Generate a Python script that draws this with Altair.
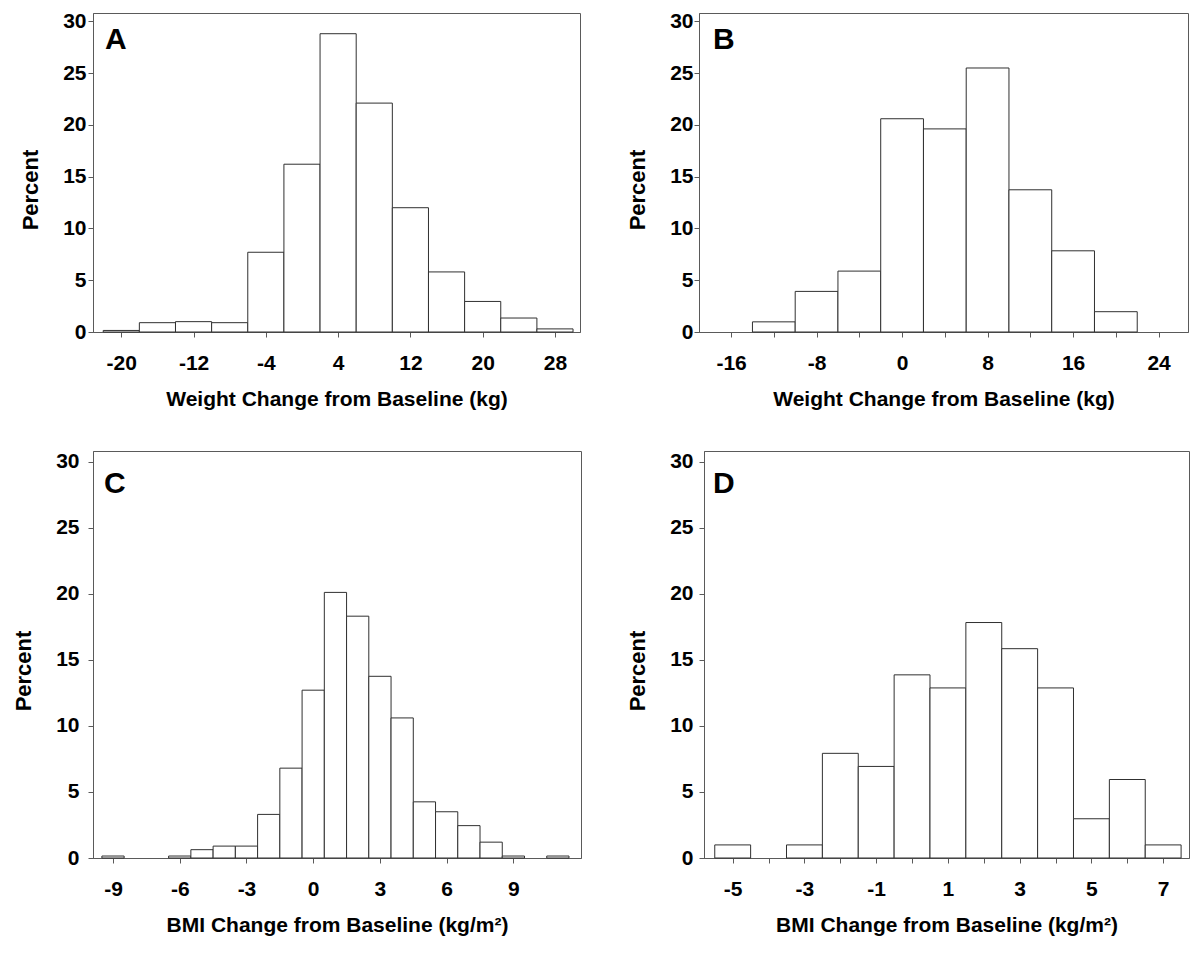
import altair as alt
import pandas as pd

# ---- data ----
panel_letters = ["A", "B", "C", "D"]
x_titles = ["Weight Change from Baseline (kg)", "Weight Change from Baseline (kg)",
            "BMI Change from Baseline (kg/m²)", "BMI Change from Baseline (kg/m²)"]

a_centers = [-20, -16, -12, -8, -4, 0, 4, 8, 12, 16, 20, 24, 28]
a_pct = [0.15, 0.9, 1.0, 0.9, 7.7, 16.2, 28.8, 22.1, 12.0, 5.8, 2.95, 1.35, 0.3]

b_centers = [-12, -8, -4, 0, 4, 8, 12, 16, 20]
b_pct = [0.98, 3.92, 5.88, 20.59, 19.61, 25.49, 13.73, 7.84, 1.96]

c_centers = [-9, -8, -7, -6, -5, -4, -3, -2, -1, 0, 1, 2, 3, 4, 5, 6, 7, 8, 9, 10, 11]
c_pct = [0.15, 0, 0, 0.15, 0.63, 0.9, 0.9, 3.3, 6.8, 12.7, 20.1, 18.3, 13.75, 10.6,
         4.25, 3.5, 2.45, 1.2, 0.15, 0, 0.15]

d_centers = [-5, -4, -3, -2, -1, 0, 1, 2, 3, 4, 5, 6, 7]
d_pct = [0.99, 0, 0.99, 7.92, 6.93, 13.86, 12.87, 17.82, 15.84, 12.87, 2.97, 5.94, 0.99]

a_ticks = [-20, -12, -4, 4, 12, 20, 28]
b_ticks = [-16, -12, -8, -4, 0, 4, 8, 12, 16, 20, 24]
c_ticks = [-9, -6, -3, 0, 3, 6, 9]
d_ticks = [-5, -4, -3, -2, -1, 0, 1, 2, 3, 4, 5, 6, 7]
y_ticks = [0, 5, 10, 15, 20, 25, 30]

FONT = "Liberation Sans"
GREY = "#5a5a5a"


def panel(centers, pct, binw, xdomain, xticks, label_expr, xtitle, letter,
          w, h, lab_pad, lx, ly, title_dy):
    df = pd.DataFrame({"center": centers, "pct": pct})
    bars = (
        alt.Chart(df)
        .transform_filter("datum.pct > 0")
        .transform_calculate(lo=f"datum.center - {binw / 2}", hi=f"datum.center + {binw / 2}")
        .mark_rect(fill="white", stroke="#303030", strokeWidth=1)
        .encode(
            x=alt.X("lo:Q",
                    scale=alt.Scale(domain=xdomain, nice=False, zero=False),
                    axis=alt.Axis(values=xticks, labelExpr=label_expr, title=xtitle,
                                  labelPadding=15, titlePadding=15, labelFlush=False,
                                  labelOverlap=False, titleFontSize=21)),
            x2="hi:Q",
            y=alt.Y("pct:Q",
                    scale=alt.Scale(domain=[0, 30.8], nice=False),
                    axis=alt.Axis(values=y_ticks, title="Percent", labelPadding=lab_pad,
                                  titlePadding=20, labelFlush=False, titleFontSize=22,
                                  titleY=h / 2 + title_dy)),
            y2=alt.datum(0),
        )
    )
    txt = (
        alt.Chart(pd.DataFrame({"t": [letter]}))
        .mark_text(font=FONT, fontWeight="bold", fontSize=30, align="left",
                   baseline="top", color="black")
        .encode(text="t:N", x=alt.value(lx), y=alt.value(ly))
    )
    return alt.layer(bars, txt).properties(width=w, height=h)


pA = panel(a_centers, a_pct, 4, [-23.13, 30.77], a_ticks, "'' + datum.value",
           x_titles[0], panel_letters[0], 487, 319, 2, 12, 12, 17)
pB = panel(b_centers, b_pct, 4, [-19.0, 26.75], b_ticks,
           "datum.value % 8 === 0 ? '' + datum.value : ''",
           x_titles[1], panel_letters[1], 489, 319, 1, 14, 12, 17)
pC = panel(c_centers, c_pct, 1, [-9.9, 12.04], c_ticks, "'' + datum.value",
           x_titles[2], panel_letters[2], 488, 407, 9, 11, 18, 16)
pD = panel(d_centers, d_pct, 1, [-5.8, 7.72], d_ticks,
           "abs(datum.value) % 2 === 1 ? '' + datum.value : ''",
           x_titles[3], panel_letters[3], 485, 407, 6, 9, 18, 16)

chart = (
    alt.vconcat(
        alt.hconcat(pA, pB, spacing=45),
        alt.hconcat(pC, pD, spacing=44),
        spacing=40,
    )
    .properties(padding={"left": 4, "top": 1, "right": 0, "bottom": 0})
    .configure_view(stroke=GREY, strokeWidth=1)
    .configure_axis(
        domainColor=GREY, tickColor=GREY, tickSize=5, grid=False,
        labelFont=FONT, labelFontWeight="bold", labelFontSize=21, labelColor="black",
        titleFont=FONT, titleFontWeight="bold", titleColor="black",
    )
)

chart.save("out.html", embed_options={"renderer": "svg", "actions": False})
